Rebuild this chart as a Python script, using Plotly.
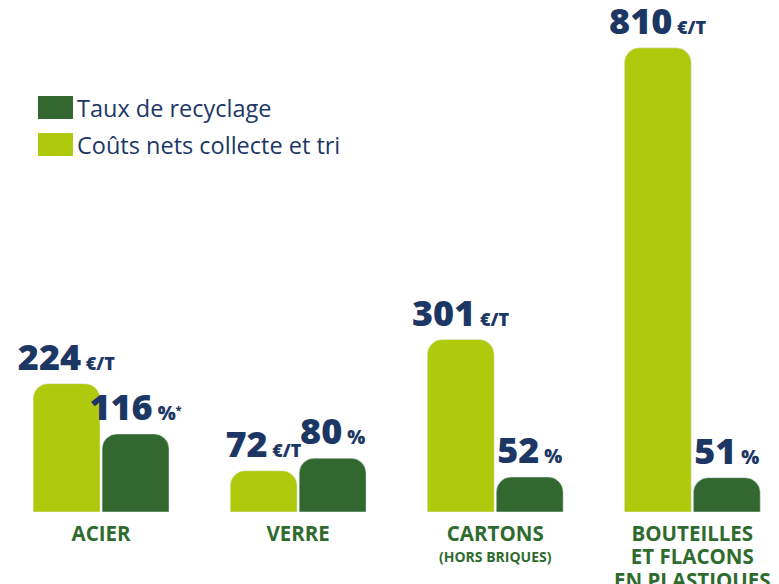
import plotly.graph_objects as go

# ---- data ----
categories = ["ACIER", "VERRE", "CARTONS", "BOUTEILLES ET FLACONS EN PLASTIQUES"]
tick_lines = [["ACIER"], ["VERRE"], ["CARTONS"], ["BOUTEILLES", "ET FLACONS", "EN PLASTIQUES"]]
tick_notes = ["", "", "(HORS BRIQUES)", ""]
costs = [224, 72, 301, 810]          # €/T
rates = [116, 80, 52, 51]            # %
rate_notes = ["*", "", "", ""]
cost_name = "Coûts nets collecte et tri"
rate_name = "Taux de recyclage"

LIGHT = "#afc90c"
DARK = "#32682f"
NAVY = "#1d3765"
GREEN_TXT = "#2f6b2e"

tick_labels = ["<br>".join(f"<span style='font-size:20.5px'><b>{l}</b></span>" for l in lines)
               for lines in tick_lines]

cost_text = [f"{v}<span style='font-size:18px'> €/T</span>" for v in costs]
rate_text = [f"{v}<span style='font-size:19px'> %</span>"
             + (f"<span style='font-size:15px'><sup>{n}</sup></span>" if n else "")
             for v, n in zip(rates, rate_notes)]

fig = go.Figure()
fig.add_trace(go.Bar(
    x=categories, y=costs, name=cost_name, marker_color=LIGHT,
    offsetgroup="cost", yaxis="y",
    text=cost_text, texttemplate="%{text}", textposition="outside",
    constraintext="none", cliponaxis=False,
    textfont=dict(family="Open Sans", size=36, color=NAVY, weight=800),
    showlegend=False, hoverinfo="skip",
))
fig.add_trace(go.Bar(
    x=categories, y=rates, name=rate_name, marker_color=DARK,
    offsetgroup="rate", yaxis="y2",
    text=rate_text, texttemplate="%{text}", textposition="outside",
    constraintext="none", cliponaxis=False,
    textfont=dict(family="Open Sans", size=36, color=NAVY, weight=800),
    showlegend=False, hoverinfo="skip",
))

# sub-notes under category labels
for cat, note in zip(categories, tick_notes):
    if note:
        fig.add_annotation(x=cat, xref="x", y=0, yref="paper", yanchor="top",
                           yshift=-33, showarrow=False,
                           text=f"<b>{note}</b>",
                           font=dict(family="Open Sans", size=14, color=GREEN_TXT))

# custom legend (large swatches)
legend_items = [(rate_name, DARK, 0.8455, 0.7988), (cost_name, LIGHT, 0.7703, 0.7236)]
for name, col, y1, y0 in legend_items:
    fig.add_shape(type="rect", xref="paper", yref="paper",
                  x0=0.037, x1=0.0832, y0=y0, y1=y1,
                  fillcolor=col, line=dict(width=0))
    fig.add_annotation(xref="paper", yref="paper", x=0.0855, y=(y0 + y1) / 2,
                       xanchor="left", yanchor="middle", showarrow=False,
                       text=name, font=dict(family="Open Sans", size=23.5, color=NAVY))

fig.update_layout(
    width=779, height=584,
    margin=dict(l=10, r=12, t=20, b=72),
    paper_bgcolor="white", plot_bgcolor="white",
    barmode="group", bargap=0.30, bargroupgap=0.03,
    barcornerradius=15,
    xaxis=dict(type="category", range=[-0.462, 3.379], tickvals=categories,
               ticktext=tick_labels, showgrid=False, zeroline=False, showline=False,
               ticks="", automargin=False, ticklabelstandoff=10,
               tickfont=dict(family="Open Sans", size=18, color=GREEN_TXT)),
    yaxis=dict(range=[0, 858.6], visible=False, automargin=False),
    yaxis2=dict(range=[0, 731], visible=False, overlaying="y", side="right", automargin=False),
    showlegend=False,
)

fig.write_html("out.html")
